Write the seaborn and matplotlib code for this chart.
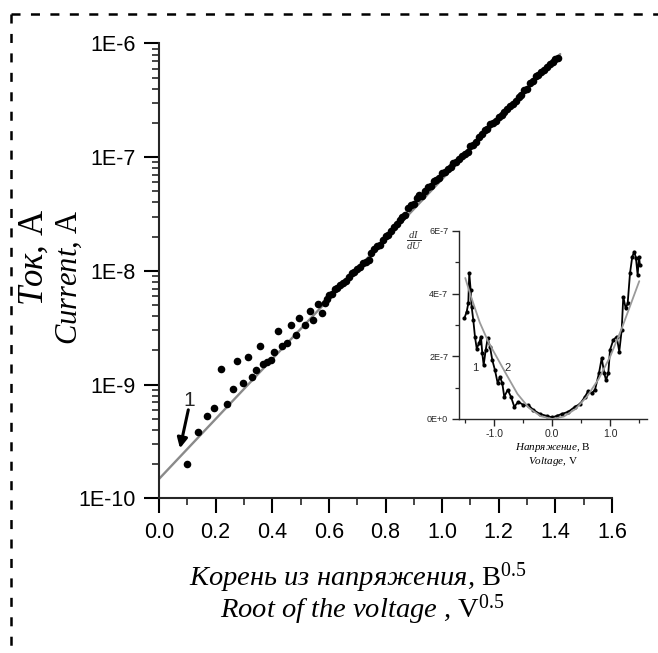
import numpy as np
import pandas as pd
import matplotlib
matplotlib.use("Agg")
import matplotlib.pyplot as plt
from matplotlib.lines import Line2D
from matplotlib.ticker import FixedLocator, LogLocator, NullFormatter, MultipleLocator
import seaborn as sns

# ---------------- data ----------------
# I(sqrt(U)) measurement: sqrt of voltage and log10 of current
root_voltage = [
    0.098, 0.137, 0.168, 0.195, 0.219, 0.239, 0.263, 0.277, 0.298, 0.313,
    0.327, 0.343, 0.357, 0.368, 0.380, 0.395, 0.406, 0.419, 0.434, 0.453,
    0.465, 0.484, 0.495, 0.516, 0.534, 0.545, 0.563, 0.575, 0.585, 0.592,
    0.60, 0.61, 0.62, 0.63, 0.64, 0.65, 0.66, 0.67, 0.68, 0.69,
    0.70, 0.71, 0.72, 0.73, 0.74, 0.75, 0.76, 0.77, 0.78, 0.79,
    0.80, 0.81, 0.82, 0.83, 0.84, 0.85, 0.86, 0.87, 0.88, 0.89,
    0.90, 0.91, 0.92, 0.93, 0.94, 0.95, 0.96, 0.97, 0.98, 0.99,
    1.00, 1.01, 1.02, 1.03, 1.04, 1.05, 1.06, 1.07, 1.08, 1.09,
    1.10, 1.11, 1.12, 1.13, 1.14, 1.15, 1.16, 1.17, 1.18, 1.19,
    1.20, 1.21, 1.22, 1.23, 1.24, 1.25, 1.26, 1.27, 1.28, 1.29,
    1.30, 1.31, 1.32, 1.33, 1.34, 1.35, 1.36, 1.37, 1.38, 1.39,
    1.40, 1.41,
]
log_current = [
    -9.70, -9.42, -9.28, -9.21, -8.86, -9.17, -9.04, -8.79, -8.99, -8.76,
    -8.93, -8.87, -8.66, -8.82, -8.80, -8.78, -8.71, -8.53, -8.66, -8.63,
    -8.48, -8.56, -8.41, -8.48, -8.35, -8.43, -8.29, -8.37, -8.28, -8.25,
    -8.21, -8.20, -8.16, -8.15, -8.12, -8.11, -8.09, -8.05, -8.02, -8.01,
    -7.98, -7.97, -7.93, -7.92, -7.90, -7.84, -7.81, -7.78, -7.77, -7.73,
    -7.69, -7.68, -7.65, -7.61, -7.59, -7.55, -7.53, -7.51, -7.45, -7.42,
    -7.41, -7.36, -7.33, -7.34, -7.30, -7.26, -7.25, -7.21, -7.20, -7.18,
    -7.14, -7.13, -7.10, -7.09, -7.05, -7.04, -7.02, -6.99, -6.97, -6.95,
    -6.90, -6.89, -6.87, -6.82, -6.80, -6.76, -6.75, -6.71, -6.70, -6.68,
    -6.65, -6.63, -6.60, -6.58, -6.55, -6.53, -6.51, -6.47, -6.45, -6.41,
    -6.40, -6.35, -6.33, -6.29, -6.28, -6.25, -6.23, -6.21, -6.18, -6.16,
    -6.14, -6.13,
]

# straight-line fit in semilog coordinates
fit_root_voltage = [0.0, 1.417]
fit_log_current = [-9.83, -6.093]

# differential conductance dI/dU (curve 1) and its fit (curve 2)
didu_voltage = [
    -1.517, -1.476, -1.448, -1.431, -1.407, -1.390, -1.362, -1.333, -1.303, -1.264,
    -1.229, -1.207, -1.183, -1.148, -1.114, -1.074, -1.034, -0.988, -0.941, -0.902,
    -0.862, -0.828, -0.769, -0.712, -0.655, -0.586, -0.500, -0.414, -0.328, -0.212,
    -0.097, 0.000, 0.076, 0.162, 0.276, 0.391, 0.478, 0.564, 0.621, 0.679,
    0.736, 0.805, 0.852, 0.897, 0.926, 0.966, 0.995, 1.052, 1.110, 1.155,
    1.197, 1.224, 1.266, 1.300, 1.340, 1.379, 1.414, 1.443, 1.472, 1.495,
    1.512,
]
didu_value = [
    3.21e-7, 3.42e-7, 3.69e-7, 4.65e-7, 4.11e-7, 3.58e-7, 3.16e-7, 2.63e-7, 2.25e-7, 2.41e-7,
    2.63e-7, 2.10e-7, 1.72e-7, 2.20e-7, 2.57e-7, 2.31e-7, 1.88e-7, 1.56e-7, 1.14e-7, 1.35e-7,
    1.14e-7, 0.71e-7, 0.93e-7, 0.71e-7, 0.39e-7, 0.55e-7, 0.45e-7, 0.45e-7, 0.29e-7, 0.16e-7,
    0.10e-7, 0.05e-7, 0.10e-7, 0.16e-7, 0.23e-7, 0.39e-7, 0.48e-7, 0.71e-7, 0.90e-7, 0.82e-7,
    0.93e-7, 1.46e-7, 1.94e-7, 1.46e-7, 1.24e-7, 1.46e-7, 2.20e-7, 2.52e-7, 2.63e-7, 2.15e-7,
    2.84e-7, 3.90e-7, 3.53e-7, 3.69e-7, 4.65e-7, 5.18e-7, 5.34e-7, 5.13e-7, 4.59e-7, 5.18e-7,
    4.91e-7,
]
fit_voltage = [-1.50, -1.40, -1.25, -1.10, -0.95, -0.80, -0.60, -0.40, -0.20, 0.00,
               0.20, 0.40, 0.60, 0.80, 1.00, 1.20, 1.35, 1.50]
fit_didu = [4.50e-7, 3.90e-7, 3.08e-7, 2.45e-7, 1.95e-7, 1.45e-7, 0.80e-7, 0.35e-7, 0.09e-7, 0.0,
            0.08e-7, 0.32e-7, 0.72e-7, 1.28e-7, 2.00e-7, 2.90e-7, 3.65e-7, 4.40e-7]

x_ticks = [0.0, 0.2, 0.4, 0.6, 0.8, 1.0, 1.2, 1.4, 1.6]
x_tick_labels = ["0.0", "0.2", "0.4", "0.6", "0.8", "1.0", "1.2", "1.4", "1.6"]
y_ticks = [1e-10, 1e-9, 1e-8, 1e-7, 1e-6]
y_tick_labels = ["1E-10", "1E-9", "1E-8", "1E-7", "1E-6"]
inset_x_ticks = [-1.0, 0.0, 1.0]
inset_x_labels = ["-1.0", "0.0", "1.0"]
inset_y_ticks = [0.0, 2e-7, 4e-7, 6e-7]
inset_y_labels = ["0E+0", "2E-7", "4E-7", "6E-7"]

# ---------------- style ----------------
sns.set_style("ticks")
plt.rcParams["font.family"] = ["Liberation Sans", "DejaVu Sans"]
plt.rcParams["mathtext.fontset"] = "custom"
plt.rcParams["mathtext.rm"] = "Liberation Serif"
plt.rcParams["mathtext.it"] = "Liberation Serif:italic"
plt.rcParams["mathtext.bf"] = "Liberation Serif:bold"
plt.rcParams["lines.scale_dashes"] = False

W, H = 658, 653
fig = plt.figure(figsize=(W / 100, H / 100), dpi=100)
fig.patch.set_facecolor("white")


def fx(px):
    return px / W


def fy(py):
    return 1 - py / H


# ---------------- main axes ----------------
ax = fig.add_axes([fx(159), fy(498.3), fx(612) - fx(159), fy(43.5) - fy(498.3)])
ax.set_yscale("log")

main_df = pd.DataFrame({"root_u": root_voltage,
                        "current": 10.0 ** np.array(log_current)})
fit_df = pd.DataFrame({"root_u": fit_root_voltage,
                       "current": 10.0 ** np.array(fit_log_current)})

sns.lineplot(data=fit_df, x="root_u", y="current", ax=ax, color="#8a8a8a",
             lw=1.7, estimator=None, sort=False, zorder=2)
sns.scatterplot(data=main_df, x="root_u", y="current", ax=ax, color="black",
                s=30, linewidth=0, zorder=3)

ax.set_xlim(0, 1.6)
ax.set_ylim(1e-10, 1e-6)
ax.set_xticks(x_ticks, x_tick_labels)
ax.xaxis.set_minor_locator(MultipleLocator(0.1))
ax.set_yticks(y_ticks, y_tick_labels)
ax.yaxis.set_minor_locator(LogLocator(base=10, subs=np.arange(2, 10)))
ax.yaxis.set_minor_formatter(NullFormatter())
ax.set_xlabel("")
ax.set_ylabel("")
for side in ("top", "right"):
    ax.spines[side].set_visible(False)
for side in ("left", "bottom"):
    ax.spines[side].set_linewidth(1.5)
ax.tick_params(which="major", length=11, width=1.5, direction="out",
               labelsize=15.5, pad=6, colors="black")
ax.tick_params(which="minor", length=5, width=1.2, direction="out")

ax.annotate("", xy=(0.074, 2.75e-10), xytext=(0.1035, 6.0e-10),
            arrowprops=dict(arrowstyle="-|>", color="black", lw=2.2,
                            mutation_scale=15, shrinkA=0, shrinkB=0))
ax.text(0.106, 7.2e-10, "1", ha="center", va="center", fontsize=15)

# axis titles (Russian / English)
serif_it = dict(family="Liberation Serif", style="italic", color="black")
fig.text(fx(358), fy(585.5), "Корень из напряжения, $\\mathrm{В}^{0.5}$",
         ha="center", va="baseline", fontsize=20.5, **serif_it)
fig.text(fx(362), fy(618), "Root of the voltage , $\\mathrm{V}^{0.5}$",
         ha="center", va="baseline", fontsize=20.5, **serif_it)
fig.text(fx(34), fy(209), "Ток, $\\mathrm{А}$", rotation=90,
         ha="center", va="top", fontsize=25, **serif_it)
fig.text(fx(69), fy(209), "Current, $\\mathrm{A}$", rotation=90,
         ha="center", va="top", fontsize=22, **serif_it)

# ---------------- inset: dI/dU ----------------
ins = fig.add_axes([fx(459.3), fy(419), fx(646.7) - fx(459.3), fy(231) - fy(419)])
ins.patch.set_alpha(0)
didu_df = pd.DataFrame({"u": didu_voltage, "g": didu_value})
fit2_df = pd.DataFrame({"u": fit_voltage, "g": fit_didu})
sns.lineplot(data=didu_df, x="u", y="g", ax=ins, color="black", lw=1.3,
             marker="o", markersize=3.0, markeredgewidth=0,
             estimator=None, sort=False, zorder=2)
sns.lineplot(data=fit2_df, x="u", y="g", ax=ins, color="#9a9a9a", lw=1.3,
             estimator=None, sort=False, zorder=3)
ins.set_xlim(-1.603, 1.628)
ins.set_ylim(0, 6e-7)
ins.set_xticks(inset_x_ticks, inset_x_labels)
ins.xaxis.set_minor_locator(FixedLocator([-1.5, -0.5, 0.5, 1.5]))
ins.set_yticks(inset_y_ticks, inset_y_labels)
ins.yaxis.set_minor_locator(FixedLocator([1e-7, 3e-7, 5e-7]))
ins.set_xlabel("")
ins.set_ylabel("")
for side in ("top", "right"):
    ins.spines[side].set_visible(False)
for side in ("left", "bottom"):
    ins.spines[side].set_linewidth(1.0)
ins.tick_params(which="major", length=5, width=1.0, direction="out", pad=2)
ins.tick_params(which="minor", length=3, width=0.9, direction="out")
ins.tick_params(axis="x", labelsize=7.5)
ins.tick_params(axis="y", labelsize=6.5, pad=3)
ins.text(-1.333, 1.62e-7, "1", ha="center", va="center", fontsize=8)
ins.text(-0.769, 1.62e-7, "2", ha="center", va="center", fontsize=8)

fig.text(fx(553), fy(450), "Напряжение, $\\mathrm{В}$", ha="center", va="baseline",
         fontsize=8, **serif_it)
fig.text(fx(553), fy(463.5), "Voltage, $\\mathrm{V}$", ha="center", va="baseline",
         fontsize=8, **serif_it)
fig.text(fx(414), fy(241), r"$\frac{dI}{dU}$", ha="center", va="center",
         fontsize=11, color="#333333")

# ---------------- dashed frame ----------------
frame_style = dict(color="black", lw=1.8, linestyle=(0, (6.5, 7.5)),
                   transform=fig.transFigure)
fig.add_artist(Line2D([fx(11), fx(11)], [fy(14), fy(660)], **frame_style))
fig.add_artist(Line2D([fx(11), fx(665)], [fy(14), fy(14)], **frame_style))

fig.savefig("out.png", dpi=100)
